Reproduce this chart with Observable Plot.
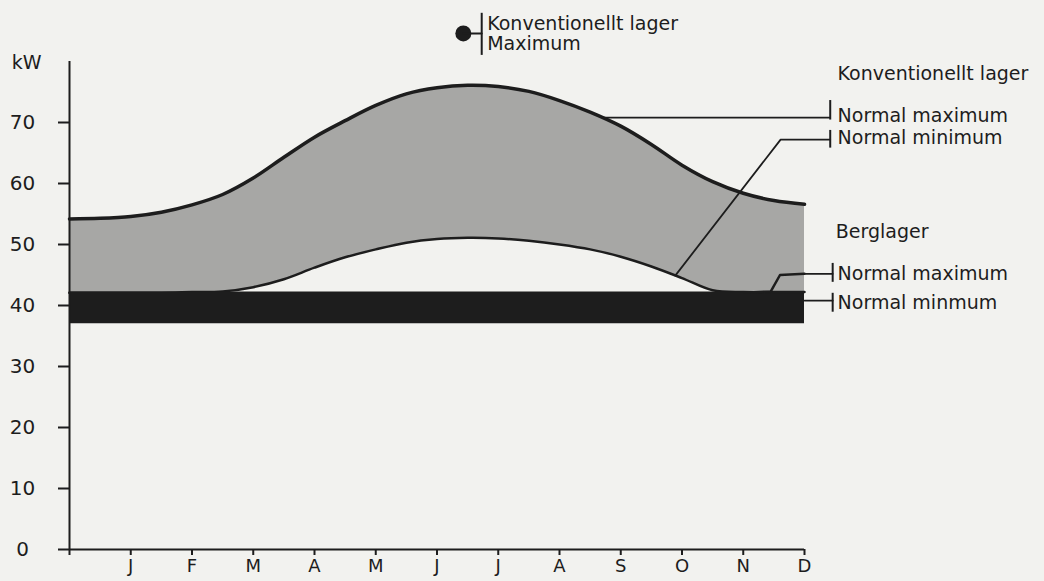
<!DOCTYPE html>
<html><head><meta charset="utf-8">
<script src="https://cdn.jsdelivr.net/npm/d3@7"></script>
<script src="https://cdn.jsdelivr.net/npm/@observablehq/plot@0.6"></script>
<style>
html,body{margin:0;padding:0;background:#f2f2ef;}
#chart{width:1044px;height:581px;overflow:hidden;}
</style></head><body><div id="chart"></div>
<script>
// Conventional storage (Konventionellt lager): normal max / normal min, kW by month position (0 = start of year)
const months  = [0,0.5,1,1.5,2,2.5,3,3.5,4,4.5,5,5.5,6,6.5,7,7.5,8,8.5,9,9.5,10,10.5,11,11.5,12];
const convMax = [54.2,54.3,54.6,55.3,56.5,58.2,60.9,64.3,67.6,70.3,72.8,74.7,75.7,76.1,75.9,75.1,73.6,71.7,69.4,66.4,63.0,60.3,58.4,57.2,56.6];
const convMin = [42.1,42.1,42.1,42.1,42.2,42.3,43.0,44.3,46.2,47.9,49.2,50.3,50.9,51.1,51.0,50.6,50.0,49.2,48.0,46.4,44.5,42.5,42.2,42.2,42.2];

// Rock storage (Berglager): normal max / normal min
const bergMonths = [0,1,2,3,4,5,6,7,8,9,10,11,11.45,11.6,12];
const bergMin = [37.0,37.0,37.0,37.0,37.0,37.0,37.0,37.0,37.0,37.0,37.0,37.0,37.0,37.0,37.0];
const bergMax = [42.1,42.1,42.1,42.1,42.1,42.1,42.1,42.1,42.1,42.1,42.1,42.1,42.3,45.0,45.2];

// Axis ticks
const tickMonths  = [0,1,2,3,4,5,6,7,8,9,10,11,12];
const monthLabels = ["","J","F","M","A","M","J","J","A","S","O","N","D"];
const yTicks = [0,10,20,30,40,50,60,70];

const conv = months.map((m, i) => ({m, lo: convMin[i], hi: convMax[i]}));
const berg = bergMonths.map((m, i) => ({m, lo: bergMin[i], hi: bergMax[i]}));

const ink = "#1d1d1d";
const grey = "#a7a7a5";
const font = "DejaVu Sans";
const fs = 19;

const chart = Plot.plot({
  width: 1044,
  height: 581,
  marginLeft: 69,
  marginRight: 240,
  marginTop: 61,
  marginBottom: 32,
  x: {domain: [0, 12]},
  y: {domain: [0, 80]},
  style: {background: "transparent", fontFamily: font, fontSize: fs + "px", color: ink},
  marks: [
    // rock storage band
    Plot.areaY(berg, {x: "m", y1: "lo", y2: "hi", fill: ink}),
    // conventional storage band
    Plot.areaY(conv, {x: "m", y1: "lo", y2: "hi", fill: grey, curve: "catmull-rom"}),
    Plot.line(conv, {x: "m", y: "hi", stroke: ink, strokeWidth: 3.5, curve: "catmull-rom"}),
    Plot.line(conv, {x: "m", y: "lo", stroke: ink, strokeWidth: 2.5, curve: "catmull-rom"}),
    Plot.line(berg, {x: "m", y: "hi", stroke: ink, strokeWidth: 2.5}),
    // axes
    Plot.ruleX([0], {y1: 0, y2: 80, stroke: ink, strokeWidth: 2}),
    Plot.ruleY([0], {x1: 0, x2: 12, stroke: ink, strokeWidth: 2}),
    Plot.axisY({ticks: yTicks, tickSize: 11, tickPadding: 36, textAnchor: "middle", fontSize: 20, label: null, strokeWidth: 2}),
    Plot.axisX({ticks: tickMonths, tickFormat: (d) => monthLabels[d], tickSize: 6, tickPadding: 4, fontSize: 18, label: null, strokeWidth: 2}),
    Plot.text(["kW"], {x: -0.7, y: 79.7, text: (d) => d, textAnchor: "middle", fontSize: fs, fill: ink}),
    // top legend
    Plot.dot([0], {x: 6.43, y: 84.6, r: 8, fill: ink}),
    Plot.line([[6.43, 84.6], [6.73, 84.6]], {stroke: ink, strokeWidth: 2}),
    Plot.ruleX([6.73], {y1: 81.0, y2: 87.9, stroke: ink, strokeWidth: 2}),
    Plot.text(["Konventionellt lager", "Maximum"], {x: 6.82, y: [86.2, 82.95], text: (d) => d, textAnchor: "start", fontSize: fs, fill: ink}),
    // conventional storage labels
    Plot.text(["Konventionellt lager"], {x: 12.54, y: 78.0, text: (d) => d, textAnchor: "start", fontSize: fs, fill: ink}),
    Plot.line([[8.7, 70.8], [12.42, 70.8]], {stroke: ink, strokeWidth: 1.6}),
    Plot.ruleX([12.42], {y1: 70.4, y2: 73.6, stroke: ink, strokeWidth: 2}),
    Plot.text(["Normal maximum"], {x: 12.54, y: 71.1, text: (d) => d, textAnchor: "start", fontSize: fs, fill: ink}),
    Plot.line([[9.89, 44.9], [11.61, 67.2], [12.42, 67.2]], {stroke: ink, strokeWidth: 1.8}),
    Plot.ruleX([12.42], {y1: 65.8, y2: 68.7, stroke: ink, strokeWidth: 2}),
    Plot.text(["Normal minimum"], {x: 12.54, y: 67.4, text: (d) => d, textAnchor: "start", fontSize: fs, fill: ink}),
    // rock storage labels
    Plot.text(["Berglager"], {x: 12.51, y: 52.0, text: (d) => d, textAnchor: "start", fontSize: fs, fill: ink}),
    Plot.line([[12, 45.2], [12.46, 45.2]], {stroke: ink, strokeWidth: 1.8}),
    Plot.ruleX([12.46], {y1: 43.8, y2: 46.9, stroke: ink, strokeWidth: 2}),
    Plot.text(["Normal maximum"], {x: 12.54, y: 45.2, text: (d) => d, textAnchor: "start", fontSize: fs, fill: ink}),
    Plot.line([[12, 40.8], [12.46, 40.8]], {stroke: ink, strokeWidth: 1.8}),
    Plot.ruleX([12.46], {y1: 38.9, y2: 42.0, stroke: ink, strokeWidth: 2}),
    Plot.text(["Normal minmum"], {x: 12.54, y: 40.4, text: (d) => d, textAnchor: "start", fontSize: fs, fill: ink})
  ]
});
document.getElementById("chart").appendChild(chart);
</script>
</body></html>
